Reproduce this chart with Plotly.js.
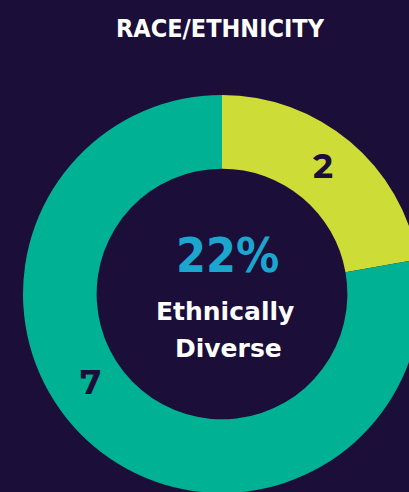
<!DOCTYPE html>
<html><head><meta charset="utf-8">
<script src="https://cdn.plot.ly/plotly-3.0.1.min.js"></script>
<style>html,body{margin:0;padding:0;background:#1b0e38;overflow:hidden;width:409px;height:492px}#chart{width:444px;height:494px}</style>
</head><body><div id="chart"></div>
<script>
const categories = ["Ethnically Diverse", "Not Ethnically Diverse"];
const values = [2, 7];
const colors = ["#cddc37", "#00b193"];
const centerPct = "22%";
const centerLabel = ["Ethnically", "Diverse"];
const titleText = "RACE/ETHNICITY";

const bg = "#1b0e38";
const cond = (t) => "<span style=\"font-family:'DejaVu Sans';font-stretch:condensed;font-weight:bold\">" + t + "</span>";
const py = (p) => (493 - p) / 398;
const data = [{
  type: "pie",
  labels: categories,
  values: values,
  hole: 0.63,
  sort: false,
  direction: "clockwise",
  rotation: 0,
  marker: {colors: colors, line: {width: 0}},
  textinfo: "none",
  hoverinfo: "none",
  showlegend: false,
  domain: {x: [0, 1], y: [0, 1]}
}];
const layout = {
  width: 444, height: 494,
  margin: {l: 0, r: 0, t: 95, b: 1},
  paper_bgcolor: bg, plot_bgcolor: bg,
  showlegend: false,
  title: {text: cond(titleText), x: 220/444, xanchor: "center", y: 1 - 28/494, yanchor: "middle", yref: "container", xref: "paper",
    font: {family: "DejaVu Sans", size: 25, color: "#ffffff"}},
  annotations: [
    {text: "<b>" + values[0] + "</b>", xref: "paper", yref: "paper", x: 323/444, y: py(166), xanchor: "center", yanchor: "middle", showarrow: false,
      font: {family: "Montserrat, Lato, sans-serif", size: 34, color: bg}},
    {text: "<b>" + values[1] + "</b>", xref: "paper", yref: "paper", x: 90/444, y: py(382), xanchor: "center", yanchor: "middle", showarrow: false,
      font: {family: "Montserrat, Lato, sans-serif", size: 34, color: bg}},
    {text: cond(centerPct), xref: "paper", yref: "paper", x: 227/444, y: py(255), xanchor: "center", yanchor: "middle", showarrow: false,
      font: {family: "DejaVu Sans", size: 48, color: "#1ba6cf"}},
    {text: "<b>" + centerLabel[0] + "</b>", xref: "paper", yref: "paper", x: 225/444, y: py(311), xanchor: "center", yanchor: "middle", showarrow: false,
      font: {family: "DejaVu Sans, sans-serif", size: 25, color: "#ffffff"}},
    {text: "<b>" + centerLabel[1] + "</b>", xref: "paper", yref: "paper", x: 228/444, y: py(348), xanchor: "center", yanchor: "middle", showarrow: false,
      font: {family: "DejaVu Sans, sans-serif", size: 25, color: "#ffffff"}}
  ]
};
Plotly.newPlot("chart", data, layout, {displayModeBar: false, staticPlot: true});
</script></body></html>
